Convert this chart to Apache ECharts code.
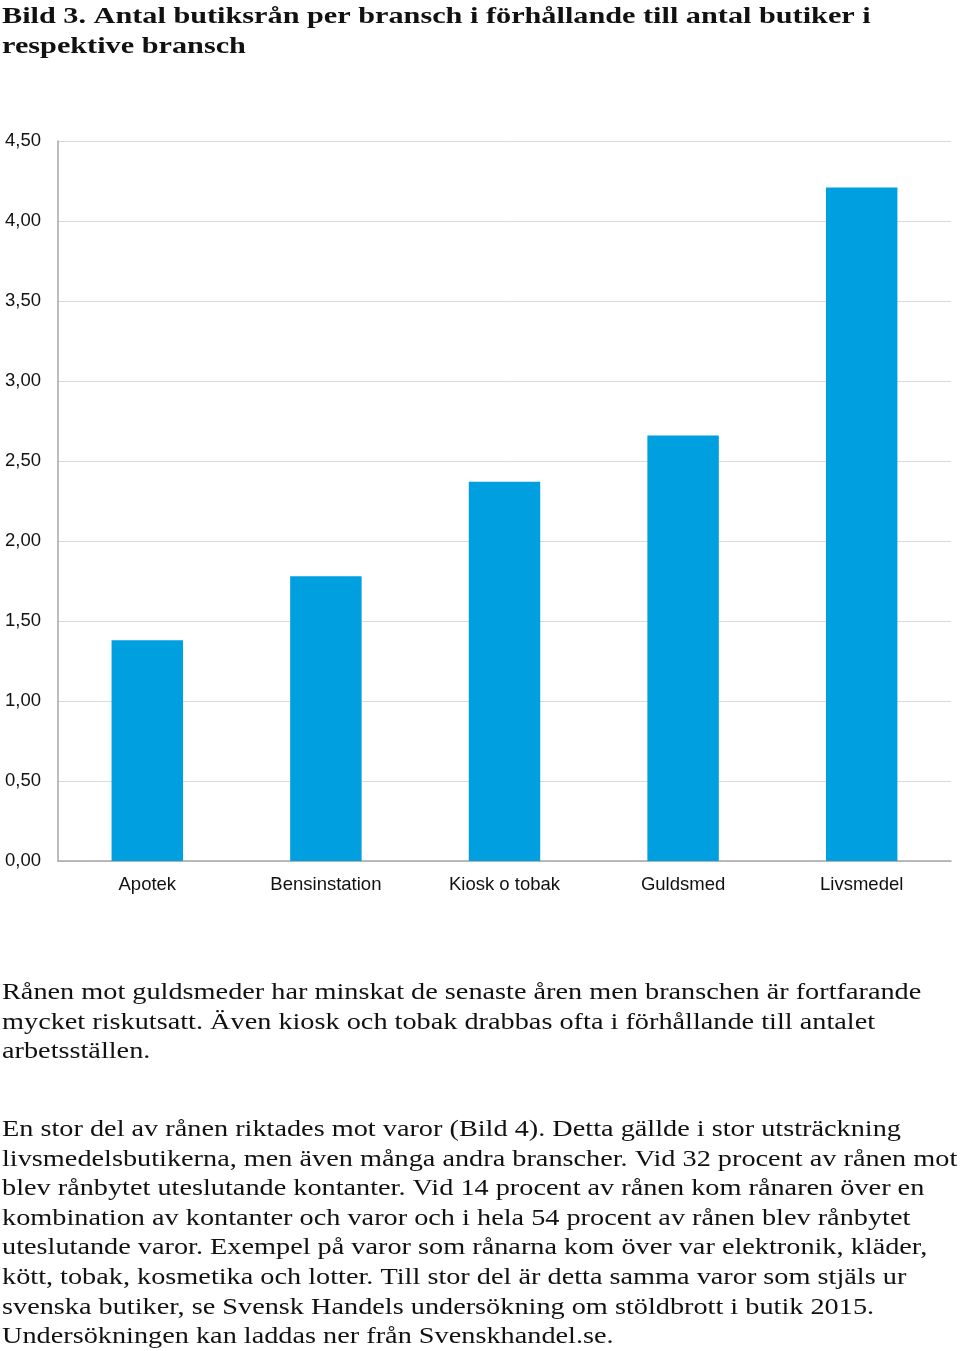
<!DOCTYPE html>
<html><head><meta charset="utf-8">
<script src="https://cdn.jsdelivr.net/npm/echarts@6/dist/echarts.min.js"></script>
<style>html,body{margin:0;padding:0;background:#fff}#c{width:960px;height:1351px}</style>
</head><body><div id="c"></div>
<script>
const categories = ['Apotek','Bensinstation','Kiosk o tobak','Guldsmed','Livsmedel'];
const values = [1.38, 1.78, 2.37, 2.66, 4.21];
const titleLines = ['Bild 3. Antal butiksrån per bransch i förhållande till antal butiker i','respektive bransch'];
const bodyLines = [
 'Rånen mot guldsmeder har minskat de senaste åren men branschen är fortfarande',
 'mycket riskutsatt. Även kiosk och tobak drabbas ofta i förhållande till antalet',
 'arbetsställen.',
 '',
 'En stor del av rånen riktades mot varor (Bild 4). Detta gällde i stor utsträckning',
 'livsmedelsbutikerna, men även många andra branscher. Vid 32 procent av rånen mot',
 'blev rånbytet uteslutande kontanter. Vid 14 procent av rånen kom rånaren över en',
 'kombination av kontanter och varor och i hela 54 procent av rånen blev rånbytet',
 'uteslutande varor. Exempel på varor som rånarna kom över var elektronik, kläder,',
 'kött, tobak, kosmetika och lotter. Till stor del är detta samma varor som stjäls ur',
 'svenska butiker, se Svensk Handels undersökning om stöldbrott i butik 2015.',
 'Undersökningen kan laddas ner från Svenskhandel.se.'
];
const graphics = [];
titleLines.forEach((t,i)=>{
  graphics.push({type:'text', x:2, y: 5 + i*30, scaleX:1.26, originX:0, originY:0,
    style:{text:t, font:'bold 24px "Liberation Serif"', fill:'#111', textVerticalAlign:'top', verticalAlign:'top'}});
});
const bodyY = [981, 1011, 1040, 0, 1118, 1148, 1177, 1207, 1236, 1266, 1296, 1325];
bodyLines.forEach((t,i)=>{
  if(!t) return;
  graphics.push({type:'text', x:2, y: bodyY[i], scaleX:1.178, originX:0, originY:0,
    style:{text:t, font:'24px "Liberation Serif"', fill:'#111', textVerticalAlign:'top', verticalAlign:'top'}});
});
const chart = echarts.init(document.getElementById('c'));
chart.setOption({
  animation:false,
  grid:{left:58, right:9, top:141, bottom:490},
  xAxis:{type:'category', data:categories,
    axisLine:{lineStyle:{color:'#a6a6a6', width:1.5}}, axisTick:{show:false},
    axisLabel:{color:'#111', fontFamily:'Liberation Sans', fontSize:18.5, margin:14}},
  yAxis:{type:'value', min:0, max:4.5, interval:0.5,
    axisLine:{show:true, lineStyle:{color:'#a6a6a6', width:1.5}}, axisTick:{show:false},
    splitLine:{lineStyle:{color:'#d9d9d9', width:1}},
    axisLabel:{color:'#111', fontFamily:'Liberation Sans', fontSize:18.5, margin:17,
      formatter:v=>v.toFixed(2).replace('.',',')}},
  series:[{type:'bar', data:values, barWidth:'40%', itemStyle:{color:'#009fdf'}}],
  graphic:graphics
});
</script></body></html>
